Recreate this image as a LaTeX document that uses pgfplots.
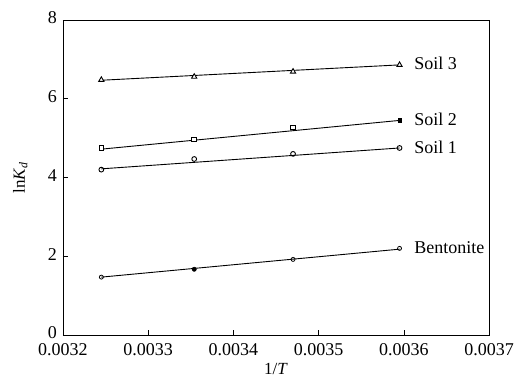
\documentclass[border=0pt]{standalone}
\usepackage{fontspec}
\setmainfont{Liberation Serif}
\usepackage{pgfplots}
\pgfplotsset{compat=1.18}
\begin{document}
\fontsize{18}{20}\selectfont
\begin{tikzpicture}
\useasboundingbox (-63pt,-45pt) rectangle (456pt,335pt);
\begin{axis}[
  scale only axis,
  width=426pt, height=315pt,
  xmin=0.0032, xmax=0.0037, ymin=0, ymax=8,
  scaled x ticks=false,
  xtick={0.0032,0.0033,0.0034,0.0035,0.0036,0.0037},
  xticklabels={0.0032,0.0033,0.0034,0.0035,0.0036,0.0037},
  ytick={0,2,4,6,8},
  yticklabels={0,2,4,6,8},
  tick align=inside,
  major tick length=5pt,
  xtick pos=bottom, ytick pos=left,
  /pgf/number format/assume math mode=true,
  tick label style={font=\fontsize{18}{20}\selectfont},
  xticklabel style={yshift=-2pt},
  yticklabel style={yshift=2pt},
  label style={font=\fontsize{17}{19}\selectfont},
  xlabel={1/\textit{T}},
  ylabel={ln\textit{K}\textsubscript{\textit{d}}},
  xlabel style={yshift=4pt},
  ylabel style={yshift=8pt},
  axis line style={line width=0.9pt},
  every tick/.style={black, line width=0.6pt},
  clip=false,
]
% fitted lines
\addplot[black, line width=0.9pt] coordinates {(0.003245,6.47) (0.003595,6.86)};
\addplot[black, line width=0.9pt] coordinates {(0.003245,4.72) (0.003595,5.45)};
\addplot[black, line width=0.9pt] coordinates {(0.003245,4.22) (0.003595,4.75)};
\addplot[black, line width=0.9pt] coordinates {(0.003245,1.47) (0.003595,2.18)};
% data points
\addplot[only marks, mark=triangle*, mark size=3pt, mark options={fill=white, draw=black, line width=0.9pt}]
  coordinates {(0.003245,6.48) (0.003354,6.56) (0.003470,6.69) (0.003595,6.86)};
\addplot[only marks, mark=square*, mark size=2.3pt, mark options={fill=white, draw=black, line width=0.9pt}]
  coordinates {(0.003245,4.75) (0.003354,4.97) (0.003470,5.27)};
\addplot[only marks, mark=square*, mark size=1.8pt, mark options={fill=black, draw=black}]
  coordinates {(0.003595,5.45)};
\addplot[only marks, mark=o, mark size=2.4pt, mark options={draw=black, line width=0.9pt}]
  coordinates {(0.003245,4.2) (0.003354,4.47) (0.003470,4.6) (0.003595,4.75)};
\addplot[only marks, mark=o, mark size=2pt, mark options={draw=black, line width=0.8pt, fill=white}]
  coordinates {(0.003245,1.47) (0.003470,1.92) (0.003595,2.2)};
\addplot[only marks, mark=*, mark size=2.2pt, mark options={fill=black}]
  coordinates {(0.003354,1.67)};
\node[anchor=west] at (axis cs:0.003605,6.9) {Soil 3};
\node[anchor=west] at (axis cs:0.003605,5.48) {Soil 2};
\node[anchor=west] at (axis cs:0.003605,4.77) {Soil 1};
\node[anchor=west] at (axis cs:0.003605,2.23) {Bentonite};
\end{axis}
\end{tikzpicture}
\end{document}
